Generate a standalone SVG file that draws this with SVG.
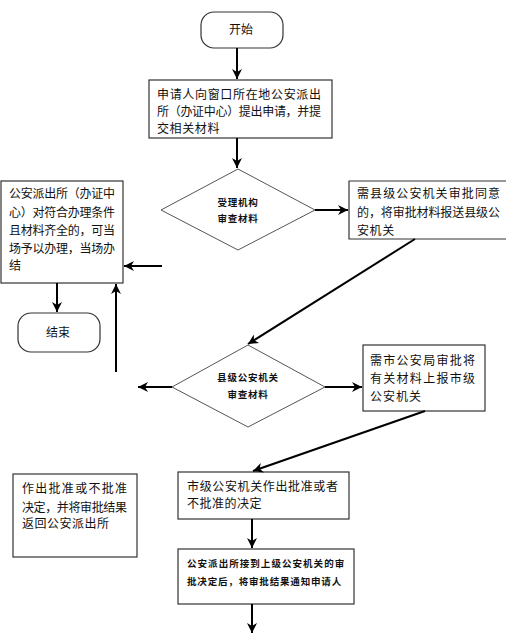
<svg xmlns="http://www.w3.org/2000/svg" width="517" height="641" viewBox="0 0 517 641">
<style>
.box{fill:#fff;stroke:#333;stroke-width:1.2}
.dia{fill:#fff;stroke:#555;stroke-width:1}
.t{font-family:"Noto Sans CJK SC","Liberation Sans",sans-serif;font-size:12px;fill:#111}
.s{font-family:"Noto Sans CJK SC","Liberation Sans",sans-serif;font-size:9.5px;fill:#111;letter-spacing:0.8px;font-weight:bold}
.c{stroke:#000;stroke-width:2;fill:none}
</style>
<defs>
<marker id="ah" markerUnits="userSpaceOnUse" markerWidth="12" markerHeight="12" viewBox="0 0 12 12" refX="11" refY="6" orient="auto">
<path d="M1,1 L11,6 L1,11 L4,6 Z" fill="#000"/>
</marker>
</defs>
<rect width="517" height="641" fill="#fff"/>

<g id="start">
<rect class="box" x="201" y="12" width="82" height="36" rx="13"/>
<text class="t" x="241" y="34" text-anchor="middle">开始</text>
</g>

<g id="apply">
<rect class="box" x="149" y="80" width="183" height="58"/>
<text class="t" x="157" y="99" textLength="164" lengthAdjust="spacing">申请人向窗口所在地公安派出</text>
<text class="t" x="157" y="116" textLength="164" lengthAdjust="spacing">所（办证中心）提出申请，并提</text>
<text class="t" x="157" y="133" letter-spacing="0.6">交相关材料</text>
</g>

<g id="review1">
<polygon class="dia" points="238,169 315,210 238,250 161,210"/>
<text class="s" x="238" y="206" text-anchor="middle">受理机构</text>
<text class="s" x="238" y="222" text-anchor="middle">审查材料</text>
</g>

<g id="county">
<path class="box" d="M506,181 H349 V239 H506"/>
<text class="t" x="357" y="198" textLength="143" lengthAdjust="spacing">需县级公安机关审批同意</text>
<text class="t" x="357" y="217" textLength="143" lengthAdjust="spacing">的，将审批材料报送县级公</text>
<text class="t" x="357" y="235" letter-spacing="0.6">安机关</text>
</g>

<g id="onsite">
<rect class="box" x="1" y="181" width="122" height="102"/>
<text class="t" x="9" y="198" textLength="106" lengthAdjust="spacing">公安派出所（办证中</text>
<text class="t" x="9" y="217" textLength="106" lengthAdjust="spacing">心）对符合办理条件</text>
<text class="t" x="9" y="235" textLength="106" lengthAdjust="spacing">且材料齐全的，可当</text>
<text class="t" x="9" y="253" textLength="106" lengthAdjust="spacing">场予以办理，当场办</text>
<text class="t" x="9" y="270">结</text>
</g>

<g id="end">
<rect class="box" x="18" y="313" width="82" height="39" rx="13"/>
<text class="t" x="58" y="337" text-anchor="middle">结束</text>
</g>

<g id="review2">
<polygon class="dia" points="248,345 325,387 248,427 172,387"/>
<text class="s" x="248" y="381" text-anchor="middle">县级公安机关</text>
<text class="s" x="248" y="398" text-anchor="middle">审查材料</text>
</g>

<g id="city">
<rect class="box" x="363" y="345" width="122" height="66"/>
<text class="t" x="370" y="365" textLength="105" lengthAdjust="spacing">需市公安局审批将</text>
<text class="t" x="370" y="383" textLength="105" lengthAdjust="spacing">有关材料上报市级</text>
<text class="t" x="370" y="401" letter-spacing="1">公安机关</text>
</g>

<g id="decide">
<rect class="box" x="13" y="474" width="124" height="83"/>
<text class="t" x="22" y="493" textLength="105" lengthAdjust="spacing">作出批准或不批准</text>
<text class="t" x="22" y="512" textLength="105" lengthAdjust="spacing">决定，并将审批结果</text>
<text class="t" x="22" y="528" letter-spacing="0.5">返回公安派出所</text>
</g>

<g id="cityDecision">
<rect class="box" x="178" y="472" width="171" height="47"/>
<text class="t" x="187" y="491" textLength="151" lengthAdjust="spacing">市级公安机关作出批准或者</text>
<text class="t" x="187" y="508" letter-spacing="0.5">不批准的决定</text>
</g>

<g id="notify">
<rect class="box" x="178" y="549" width="176" height="55"/>
<text class="s" x="187" y="567" textLength="158" lengthAdjust="spacing">公安派出所接到上级公安机关的审</text>
<text class="s" x="187" y="585" textLength="155" lengthAdjust="spacing">批决定后，将审批结果通知申请人</text>
</g>

<g id="connectors">
<line class="c" x1="237" y1="48" x2="237" y2="79" marker-end="url(#ah)"/>
<line class="c" x1="237" y1="138" x2="237" y2="168" marker-end="url(#ah)"/>
<line class="c" x1="315" y1="210" x2="348" y2="210" marker-end="url(#ah)"/>
<line class="c" x1="415" y1="239" x2="248" y2="344" marker-end="url(#ah)"/>
<line class="c" x1="162" y1="266" x2="124" y2="266" marker-end="url(#ah)"/>
<line class="c" x1="116" y1="372" x2="116" y2="284" marker-end="url(#ah)"/>
<line class="c" x1="57" y1="283" x2="57" y2="312" marker-end="url(#ah)"/>
<line class="c" x1="172" y1="387" x2="138" y2="387" marker-end="url(#ah)"/>
<line class="c" x1="325" y1="387" x2="362" y2="387" marker-end="url(#ah)"/>
<line class="c" x1="425" y1="411" x2="253" y2="471" marker-end="url(#ah)"/>
<line class="c" x1="252" y1="519" x2="252" y2="548" marker-end="url(#ah)"/>
<line class="c" x1="252" y1="604" x2="252" y2="633" marker-end="url(#ah)"/>
</g>
</svg>
